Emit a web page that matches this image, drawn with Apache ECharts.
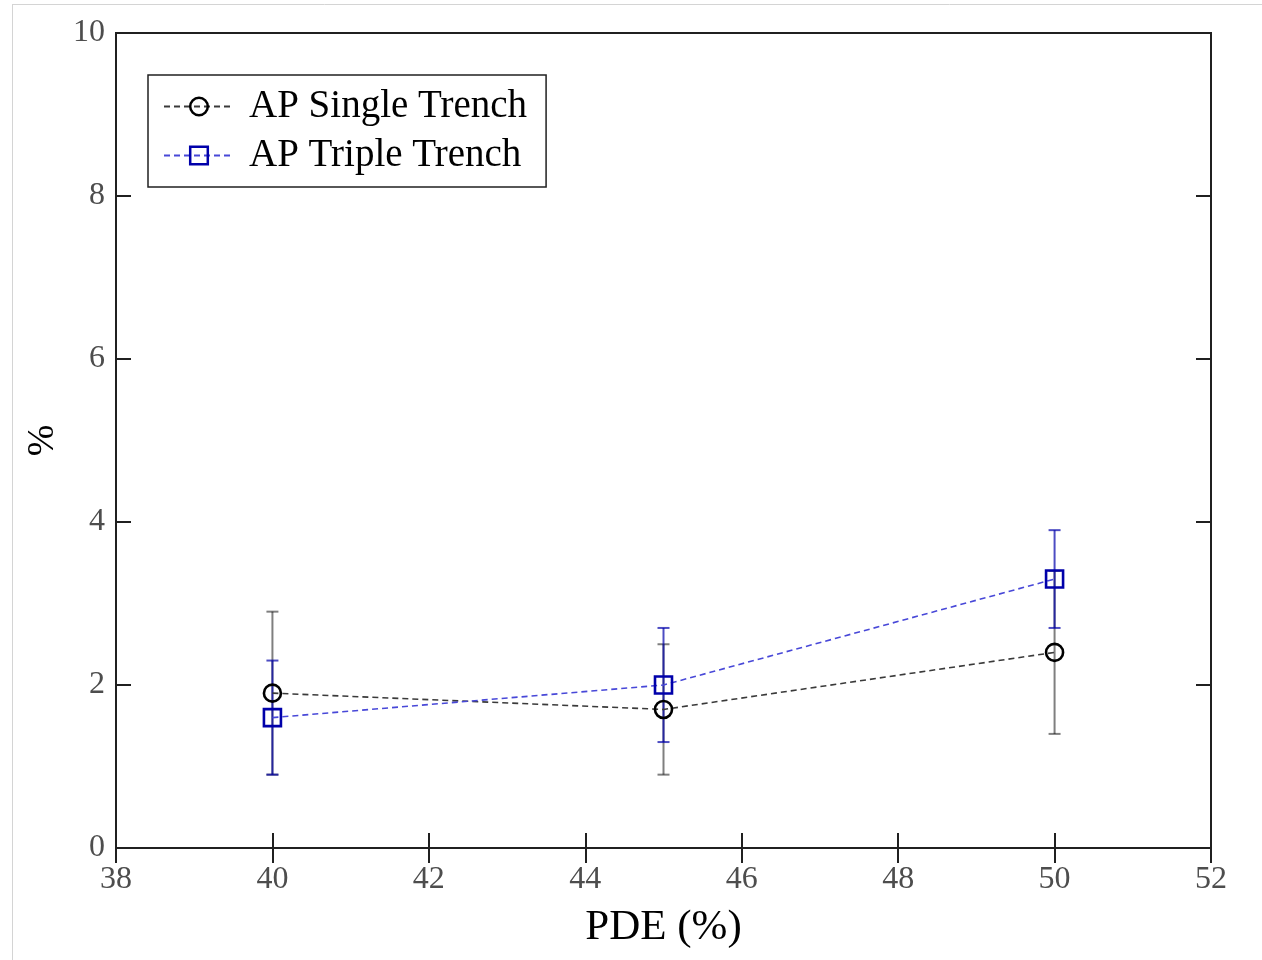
<!DOCTYPE html>
<html>
<head>
<meta charset="utf-8">
<script src="https://cdn.jsdelivr.net/npm/echarts@6/dist/echarts.min.js"></script>
<style>
html,body{margin:0;padding:0;background:#fff;}
#chart{width:1262px;height:960px;}
</style>
</head>
<body>
<div id="chart"></div>
<script>
// ---- data ----
const pde = [40, 45, 50];
const singleMean = [1.9, 1.7, 2.4];
const singleErr = [1.0, 0.8, 1.0];
const tripleMean = [1.6, 2.0, 3.3];
const tripleErr = [0.7, 0.7, 0.6];
const xTicks = [38, 40, 42, 44, 46, 48, 50, 52];
const yTicks = [0, 2, 4, 6, 8, 10];
const seriesNames = ['AP Single Trench', 'AP Triple Trench'];

const FONT = '"Liberation Serif", "Times New Roman", serif';

function errData(means, errs) {
  return pde.map((x, i) => [x, means[i] - errs[i], means[i] + errs[i]]);
}
function errSeries(means, errs, color) {
  return {
    type: 'custom',
    silent: true,
    data: errData(means, errs),
    encode: { x: 0, y: [1, 2] },
    renderItem: function (params, api) {
      const x = api.value(0);
      const lo = api.coord([x, api.value(1)]);
      const hi = api.coord([x, api.value(2)]);
      const hw = 6;
      const st = { stroke: color, lineWidth: 2 };
      return {
        type: 'group',
        children: [
          { type: 'line', shape: { x1: lo[0], y1: lo[1], x2: hi[0], y2: hi[1] }, style: st },
          { type: 'line', shape: { x1: lo[0] - hw, y1: lo[1], x2: lo[0] + hw, y2: lo[1] }, style: st },
          { type: 'line', shape: { x1: hi[0] - hw, y1: hi[1], x2: hi[0] + hw, y2: hi[1] }, style: st }
        ]
      };
    },
    z: 2
  };
}

const chart = echarts.init(document.getElementById('chart'), null, { renderer: 'canvas' });

const axisLineStyle = { color: '#202020', width: 2 };
const tickLabel = { color: '#4d4d4d', fontFamily: FONT, fontSize: 32 };

chart.setOption({
  animation: false,
  backgroundColor: '#ffffff',
  textStyle: { fontFamily: FONT },
  graphic: [
    { type: 'line', shape: { x1: 12, y1: 4.5, x2: 1262, y2: 4.5 }, style: { stroke: '#d4d4d4', lineWidth: 1 } },
    { type: 'line', shape: { x1: 12.5, y1: 4, x2: 12.5, y2: 960 }, style: { stroke: '#d4d4d4', lineWidth: 1 } }
  ],
  grid: {
    left: 116, right: 51, top: 33, bottom: 112,
    show: true, borderColor: '#202020', borderWidth: 2, backgroundColor: 'transparent'
  },
  legend: {
    orient: 'vertical',
    left: 148, top: 75,
    padding: [12, 19, 12, 15],
    itemGap: 10,
    itemWidth: 70,
    itemHeight: 22,
    backgroundColor: '#fff',
    borderColor: '#202020',
    borderWidth: 1.5,
    borderRadius: 0,
    selectedMode: false,
    itemStyle: { borderWidth: 2.5 },
    data: seriesNames,
    textStyle: { fontFamily: FONT, fontSize: 39, color: '#000', lineHeight: 38, padding: [0, 0, 0, 10] }
  },
  xAxis: [
    {
      type: 'value', min: 38, max: 52, interval: 2, position: 'bottom',
      name: 'PDE (%)', nameLocation: 'middle', nameGap: 58,
      nameTextStyle: { fontFamily: FONT, fontSize: 43, color: '#000' },
      axisLine: { show: true, lineStyle: axisLineStyle },
      axisTick: { show: true, inside: true, length: 15, lineStyle: axisLineStyle },
      axisLabel: Object.assign({ margin: 16, formatter: v => String(v) }, tickLabel),
      splitLine: { show: false }
    },
    {
      type: 'value', min: 38, max: 52, interval: 2, position: 'top',
      axisLine: { show: true, lineStyle: axisLineStyle },
      axisTick: { show: true, inside: true, length: 15, lineStyle: axisLineStyle },
      axisLabel: { show: false },
      splitLine: { show: false }
    }
  ],
  yAxis: [
    {
      type: 'value', min: 0, max: 10, interval: 2, position: 'left',
      name: '%', nameLocation: 'middle', nameGap: 50, nameRotate: 90,
      nameTextStyle: { fontFamily: FONT, fontSize: 38, color: '#000' },
      axisLine: { show: true, lineStyle: axisLineStyle },
      axisTick: { show: true, inside: true, length: 15, lineStyle: axisLineStyle },
      axisLabel: Object.assign({ margin: 11 }, tickLabel),
      splitLine: { show: false }
    },
    {
      type: 'value', min: 0, max: 10, interval: 2, position: 'right',
      axisLine: { show: true, lineStyle: axisLineStyle },
      axisTick: { show: true, inside: true, length: 15, lineStyle: axisLineStyle },
      axisLabel: { show: false },
      splitLine: { show: false }
    }
  ],
  series: [
    errSeries(singleMean, singleErr, 'rgba(0,0,0,0.5)'),
    errSeries(tripleMean, tripleErr, 'rgba(0,0,170,0.7)'),
    {
      name: seriesNames[0],
      type: 'line',
      data: pde.map((x, i) => [x, singleMean[i]]),
      symbol: 'circle',
      symbolSize: 17,
      lineStyle: { color: '#3a3a3a', width: 1.6, type: [6, 4] },
      itemStyle: { color: 'rgba(255,255,255,0)', borderColor: '#000', borderWidth: 2.6 },
      z: 3
    },
    {
      name: seriesNames[1],
      type: 'line',
      data: pde.map((x, i) => [x, tripleMean[i]]),
      symbol: 'rect',
      symbolSize: 17,
      lineStyle: { color: '#4848d8', width: 1.6, type: [6, 4] },
      itemStyle: { color: 'rgba(255,255,255,0)', borderColor: '#0000aa', borderWidth: 2.6 },
      z: 4
    }
  ]
});
</script>
</body>
</html>
